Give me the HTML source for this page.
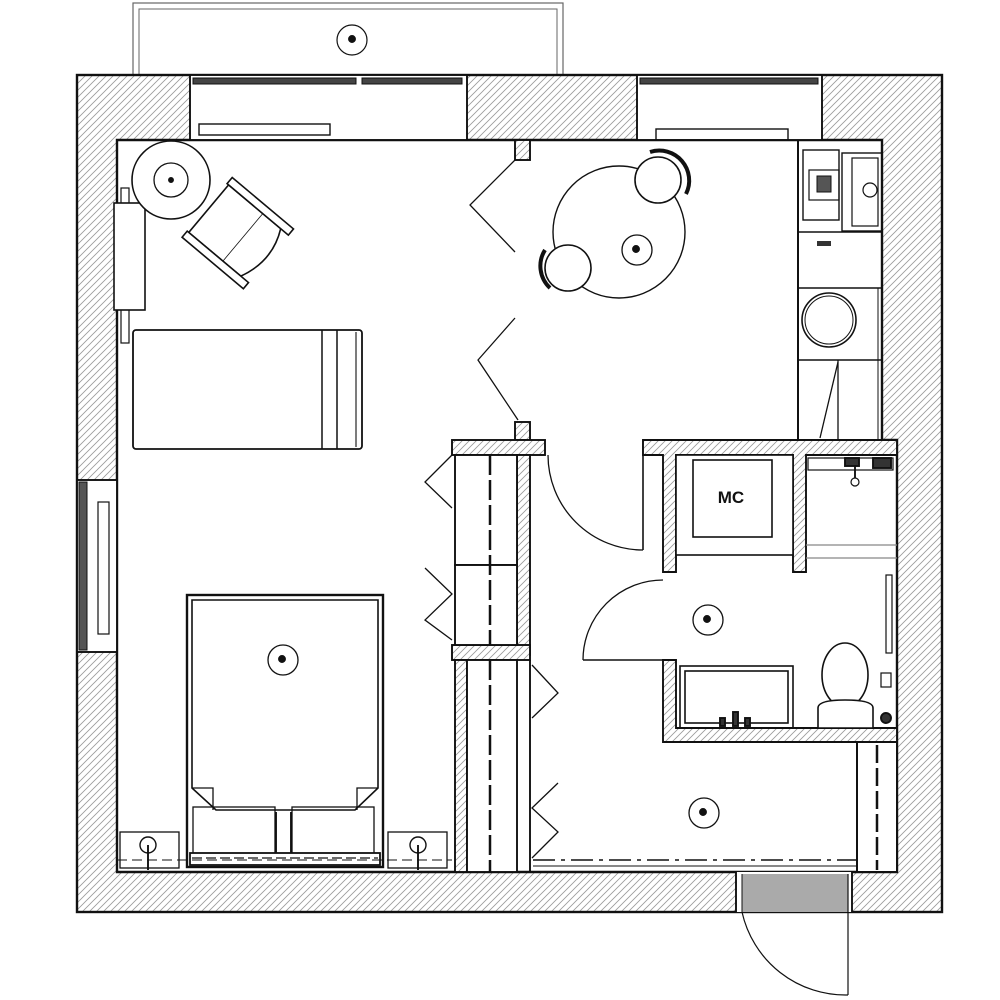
<!DOCTYPE html>
<html><head><meta charset="utf-8"><style>html,body{margin:0;padding:0;background:#fff}svg{display:block}</style></head>
<body>
<svg width="1000" height="1000" viewBox="0 0 1000 1000" xmlns="http://www.w3.org/2000/svg">
<defs>
<pattern id="h" width="7" height="7" patternUnits="userSpaceOnUse">
<rect width="7" height="7" fill="#fff"/>
<path d="M-1,8 L8,-1 M-2,2 L2,-2 M5,9 L9,5" stroke="#9a9a9a" stroke-width="0.8"/>
</pattern>
</defs>
<g fill="none" stroke="#111" stroke-width="1.9">
<!-- balcony -->
<rect x="133" y="3" width="430" height="72" stroke-width="1.2" stroke="#666"/>
<rect x="139" y="9" width="418" height="66" stroke-width="1" stroke="#666"/>
<circle cx="352" cy="40" r="15" stroke-width="1.2"/><circle cx="352" cy="39" r="3" fill="#111"/>
<!-- outer walls hatched -->
<rect x="77" y="75" width="865" height="837" fill="url(#h)" stroke-width="2.4"/>
<!-- interior -->
<path d="M117,140 L882,140 L882,440 L897,440 L897,872 L117,872 Z" fill="#fff" stroke-width="2.4"/>
<!-- top windows -->
<rect x="190" y="75" width="277" height="65" fill="#fff"/>
<rect x="193" y="78" width="163" height="6" fill="#444" stroke-width="1"/>
<rect x="362" y="78" width="100" height="6" fill="#444" stroke-width="1"/>
<rect x="199" y="124" width="131" height="11" stroke-width="1.4"/>
<rect x="637" y="75" width="185" height="65" fill="#fff"/>
<rect x="640" y="78" width="178" height="6" fill="#444" stroke-width="1"/>
<rect x="656" y="129" width="132" height="11" stroke-width="1.4"/>
<!-- left window -->
<rect x="77" y="480" width="40" height="172" fill="#fff"/>
<rect x="79" y="482" width="8" height="168" fill="#555" stroke-width="1"/>
<rect x="98" y="502" width="11" height="132" stroke-width="1.2"/>
<!-- entrance -->
<rect x="736" y="872" width="116" height="40" fill="#fff" stroke="none"/>
<rect x="742" y="874" width="106" height="38" fill="#aaa" stroke="none"/>
<line x1="736" y1="872" x2="736" y2="912"/><line x1="852" y1="872" x2="852" y2="912"/>
<line x1="742" y1="874" x2="742" y2="912" stroke-width="1"/>
<line x1="848" y1="874" x2="848" y2="995" stroke-width="1.2"/>
<path d="M742,912 A106,106 0 0 0 848,995" stroke-width="1.2"/>
<line x1="852" y1="912" x2="942" y2="912"/>

<!-- living/bedroom partition stubs -->
<rect x="515" y="140" width="15" height="20" fill="url(#h)"/>
<rect x="515" y="422" width="15" height="18" fill="url(#h)"/>
<polyline points="515,160 470,205 515,252" stroke-width="1.3"/>
<polyline points="515,318 478,360 518,420" stroke-width="1.3"/>

<!-- central wardrobe block -->
<rect x="452" y="440" width="93" height="15" fill="url(#h)"/>
<rect x="517" y="455" width="13" height="200" fill="url(#h)"/>
<rect x="452" y="645" width="78" height="15" fill="url(#h)"/>
<rect x="455" y="660" width="12" height="212" fill="url(#h)"/>
<rect x="455" y="455" width="62" height="110" fill="#fff"/>
<rect x="455" y="565" width="62" height="80" fill="#fff"/>
<line x1="490" y1="455" x2="490" y2="645" stroke-width="2.5" stroke-dasharray="20,5"/>
<rect x="467" y="660" width="50" height="212" fill="#fff"/>
<line x1="490" y1="660" x2="490" y2="872" stroke-width="2.5" stroke-dasharray="20,5"/>
<line x1="530" y1="660" x2="530" y2="872"/>
<polyline points="452,455 425,482 452,508" stroke-width="1.3"/>
<polyline points="425,568 452,594 425,620 452,640" stroke-width="1.3"/>
<polyline points="532,665 558,693 532,718" stroke-width="1.3"/>
<polyline points="558,783 532,808 558,832 532,858" stroke-width="1.3"/>
<!-- door to hall -->
<line x1="643" y1="440" x2="643" y2="550" stroke-width="1.6"/>
<path d="M548,455 A95,95 0 0 0 643,550" stroke-width="1.3"/>

<!-- bathroom block -->
<path d="M643,440 L897,440 L897,455 L806,455 L806,572 L793,572 L793,455 L676,455 L676,572 L663,572 L663,455 L643,455 Z" fill="url(#h)"/>
<path d="M663,660 L676,660 L676,728 L897,728 L897,742 L663,742 Z" fill="url(#h)"/>
<rect x="676" y="455" width="117" height="100" fill="#fff" stroke-width="1.6"/>
<rect x="693" y="460" width="79" height="77" stroke-width="1.6"/>
<text x="731" y="503" font-family="Liberation Sans, sans-serif" font-size="17" font-weight="bold" fill="#111" stroke="none" text-anchor="middle">МС</text>
<line x1="806" y1="545" x2="897" y2="545" stroke="#888" stroke-width="1.2"/>
<line x1="806" y1="558" x2="897" y2="558" stroke="#888" stroke-width="1.2"/>
<rect x="808" y="458" width="85" height="12" stroke-width="1.2"/>
<circle cx="855" cy="482" r="4" stroke-width="1.2"/><line x1="855" y1="462" x2="855" y2="478"/>
<rect x="845" y="458" width="14" height="8" fill="#333"/><rect x="873" y="458" width="18" height="10" fill="#333"/>
<rect x="886" y="575" width="6" height="78" stroke-width="1.2"/>
<!-- bath door -->
<line x1="583" y1="660" x2="663" y2="660" stroke-width="1.6"/>
<path d="M583,660 A80,80 0 0 1 663,580" stroke-width="1.3"/>
<!-- bath -->
<rect x="680" y="666" width="113" height="62" stroke-width="1.6"/>
<rect x="685" y="671" width="103" height="52" stroke-width="1.6"/>
<rect x="720" y="718" width="5" height="8" fill="#333"/><rect x="733" y="712" width="5" height="14" fill="#333"/><rect x="745" y="718" width="5" height="8" fill="#333"/>
<!-- toilet -->
<ellipse cx="845" cy="675" rx="23" ry="32" fill="#fff" stroke-width="1.6"/>
<path d="M818,708 Q818,700 845,700 Q873,700 873,708 L873,728 L818,728 Z" fill="#fff" stroke-width="1.6"/>
<circle cx="886" cy="718" r="5" fill="#333"/>
<rect x="881" y="673" width="10" height="14" stroke-width="1.2"/>
<circle cx="708" cy="620" r="15" stroke-width="1.3"/><circle cx="707" cy="619" r="3" fill="#111"/>

<!-- hall -->
<rect x="857" y="742" width="40" height="130" fill="#fff" stroke-width="2"/>
<line x1="877" y1="745" x2="877" y2="870" stroke-width="2.5" stroke-dasharray="18,5"/>
<line x1="533" y1="860" x2="857" y2="860" stroke-width="1.4" stroke-dasharray="22,6,4,6"/>
<line x1="533" y1="866" x2="857" y2="866" stroke-width="1"/>
<circle cx="704" cy="813" r="15" stroke-width="1.3"/><circle cx="703" cy="812" r="3" fill="#111"/>

<!-- kitchen -->
<line x1="798" y1="140" x2="798" y2="440" stroke-width="2"/>
<rect x="803" y="150" width="36" height="70" stroke-width="1.4"/>
<rect x="809" y="170" width="30" height="30" stroke-width="1.2"/>
<rect x="817" y="176" width="14" height="16" fill="#555" stroke-width="1"/>
<rect x="842" y="153" width="40" height="78" stroke-width="1.4"/>
<rect x="852" y="158" width="26" height="68" stroke-width="1.2"/>
<circle cx="870" cy="190" r="7" stroke-width="1.2"/>
<line x1="798" y1="232" x2="882" y2="232" stroke-width="1.4"/>
<rect x="817" y="241" width="14" height="5" fill="#333" stroke="none"/>
<line x1="798" y1="288" x2="882" y2="288" stroke-width="1.4"/>
<line x1="878" y1="288" x2="878" y2="440" stroke-width="1"/>
<circle cx="829" cy="320" r="27" stroke-width="1.6"/><circle cx="829" cy="320" r="24" stroke-width="1"/>
<line x1="798" y1="360" x2="882" y2="360" stroke-width="1.4"/>
<line x1="838" y1="360" x2="838" y2="440" stroke-width="1.3"/>
<line x1="838" y1="362" x2="820" y2="438" stroke-width="1.3"/>

<!-- dining -->
<circle cx="619" cy="232" r="66" fill="#fff" stroke-width="1.4"/>
<circle cx="658" cy="180" r="23" fill="#fff" stroke-width="1.6"/>
<path d="M650,152 A30,30 0 0 1 686,194" stroke-width="4"/>
<circle cx="568" cy="268" r="23" fill="#fff" stroke-width="1.6"/>
<path d="M550,288 A30,30 0 0 1 545,250" stroke-width="4"/>
<circle cx="637" cy="250" r="15" stroke-width="1.3"/><circle cx="636" cy="249" r="3" fill="#111"/>

<!-- bedroom: side table & armchair -->
<rect x="121" y="188" width="8" height="18" stroke-width="1.2"/>
<rect x="121" y="305" width="8" height="38" stroke-width="1.2"/>
<rect x="114" y="203" width="31" height="107" fill="#fff" stroke-width="1.6"/>
<circle cx="171" cy="180" r="39" fill="#fff" stroke-width="1.6"/>
<circle cx="171" cy="180" r="17" stroke-width="1.3"/><circle cx="171" cy="180" r="2" fill="#111"/>
<g transform="translate(232,240) rotate(40)" stroke-width="1.6">
<rect x="-38" y="-40" width="45" height="62" fill="#fff"/>
<path d="M7,-40 L30,-40 Q45,-10 30,22 L7,22" fill="#fff"/>
<rect x="-40" y="-48" width="80" height="8" fill="#fff"/>
<rect x="-40" y="22" width="80" height="8" fill="#fff"/>
</g>
<!-- sofa -->
<rect x="133" y="330" width="229" height="119" rx="3" stroke-width="1.8"/>
<line x1="322" y1="330" x2="322" y2="449" stroke-width="1.5"/>
<line x1="337" y1="330" x2="337" y2="449" stroke-width="1.5"/>
<line x1="356" y1="332" x2="356" y2="447" stroke-width="1.1"/>

<!-- bed -->
<rect x="187" y="595" width="196" height="272" stroke-width="2.4"/>
<path d="M192,600 L378,600 L378,788 L355,810 L216,810 L192,788 Z" stroke-width="1.6"/>
<path d="M192,788 L213,788 L213,810 M378,788 L357,788 L357,810" stroke-width="1.3"/>
<rect x="193" y="807" width="82" height="52" stroke-width="1.3"/>
<rect x="292" y="807" width="82" height="52" stroke-width="1.3"/>
<line x1="276" y1="812" x2="276" y2="860"/><line x1="291" y1="812" x2="291" y2="860"/>
<rect x="190" y="853" width="190" height="12" fill="#fff" stroke-width="1.8"/>
<line x1="192" y1="858" x2="378" y2="858" stroke-width="1.3" stroke-dasharray="10,4"/>
<rect x="120" y="832" width="59" height="36" stroke-width="1.3"/>
<circle cx="148" cy="845" r="8" stroke-width="1.4"/><line x1="148" y1="845" x2="148" y2="870"/>
<rect x="388" y="832" width="59" height="36" stroke-width="1.3"/>
<circle cx="418" cy="845" r="8" stroke-width="1.4"/><line x1="418" y1="845" x2="418" y2="870"/>
<line x1="117" y1="860" x2="452" y2="860" stroke-width="1" stroke-dasharray="10,5"/>
<circle cx="283" cy="660" r="15" stroke-width="1.3"/><circle cx="282" cy="659" r="3" fill="#111"/>
</g>
</svg>
</body></html>
